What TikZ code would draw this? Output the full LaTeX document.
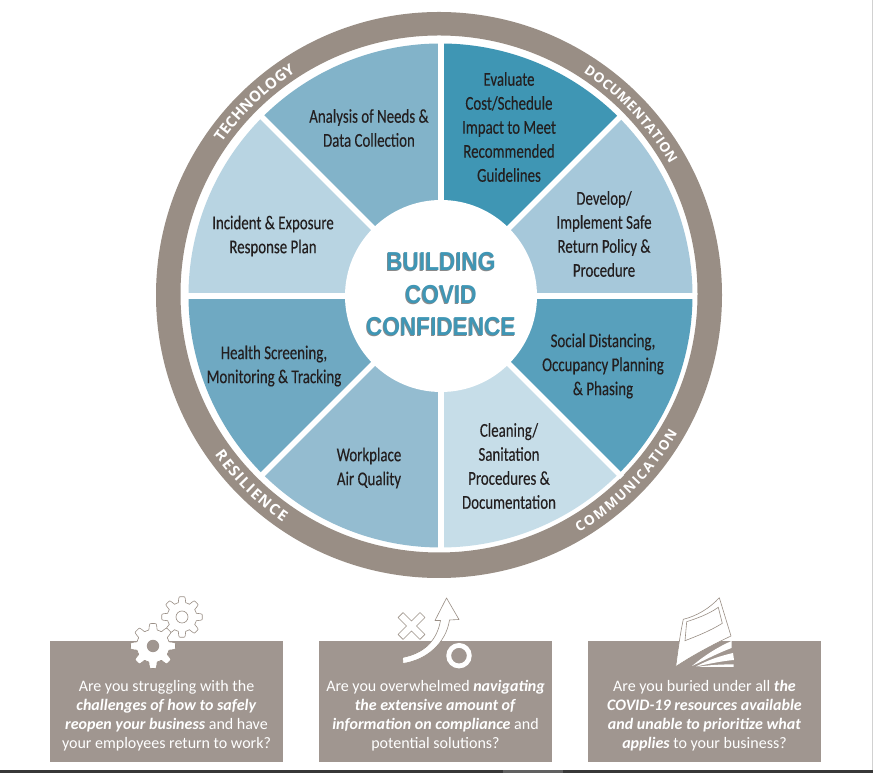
\documentclass[tikz,border=0pt]{standalone}
\usepackage{fontspec}
\usetikzlibrary{decorations.text}
\newfontfamily\wedgefont[FakeStretch=0.76,FakeBold=0.25]{Carlito}
\newfontfamily\boxfont{Carlito}
\newfontfamily\ringfont{Open Sans}
\newfontfamily\headfont[FakeStretch=0.87]{Liberation Sans}
\definecolor{ringgrey}{HTML}{998E85}
\definecolor{boxgrey}{HTML}{A09690}
\definecolor{headblue}{HTML}{3F96B5}
\definecolor{headshade}{HTML}{8A8A8A}
\definecolor{inktext}{HTML}{231F20}
\definecolor{wa}{HTML}{82B3C9}
\definecolor{wb}{HTML}{3F96B4}
\definecolor{wc}{HTML}{A6C8DA}
\definecolor{wd}{HTML}{58A0BC}
\definecolor{we}{HTML}{C6DDE8}
\definecolor{wf}{HTML}{94BCD0}
\definecolor{wg}{HTML}{6FA9C2}
\definecolor{wh}{HTML}{B8D4E2}
\tikzset{
  x=1pt,y=1pt,
  wedgelabel/.style={font=\wedgefont\fontsize{19.6}{24}\selectfont,text=inktext,align=center,inner sep=0pt},
  boxlabel/.style={font=\boxfont\fontsize{16}{19}\selectfont,text=white,align=center,inner sep=0pt},
  heading/.style={font=\headfont\bfseries\fontsize{26}{32.5}\selectfont,align=center,inner sep=0pt},
  infobox/.style={fill=boxgrey,minimum width=233pt,minimum height=121pt,inner sep=0pt,anchor=north west},
  iconline/.style={draw=ringgrey,line width=.6pt,fill=white,line join=round},
  ringtext/.style 2 args={decorate,decoration={text along path,text align={fit to path},
    text={|\ringfont\bfseries\fontsize{#1}{#1}\selectfont\color{white}|#2}}},
  sector/.style={fill=#1}
}
% Eight-toothed gear outline centred on the current origin
\newcommand{\gearoutline}[3]{plot[domain=0:360,samples=193,variable=\t]
  (\t:{#1+#2*max(min(2.4*cos(8*(\t-#3)),1),-1)}) -- cycle}
\begin{document}
\begin{tikzpicture}
\useasboundingbox (0,0) rectangle (873,773);
\fill[white] (0,0) rectangle (873,773);

% Outer ring
\fill[ringgrey,even odd rule] (439,478) circle[radius=283pt] (439,479) circle[radius=258.5pt];

% Ring captions
\begin{scope}[shift={(439,478)}]
  \path[ringtext={15}{TECHNOLOGY}] (145:265) arc[start angle=145,end angle=123,radius=265pt];
  \path[ringtext={13.6}{DOCUMENTATION}] (57:265) arc[start angle=57,end angle=29.5,radius=265pt];
  \path[ringtext={13.6}{COMMUNICATION}] (-59.5:275.5) arc[start angle=-59.5,end angle=-30,radius=275.5pt];
  \path[ringtext={15}{RESILIENCE}] (215.5:275.5) arc[start angle=215.5,end angle=235.5,radius=275.5pt];
\end{scope}

% Eight sectors of the wheel
\begin{scope}[shift={(440.5,477.5)}]
  \foreach \a/\c in {45/wb,0/wc,-45/wd,-90/we,-135/wf,-180/wg,-225/wh,-270/wa}
    \fill[sector=\c] (0,0) -- (\a:252) arc[start angle=\a,delta angle=45,radius=252pt] -- cycle;
\end{scope}

% White spokes and hub
\begin{scope}[shift={(441,477)}]
  \foreach \a in {0,45,90,135}
    \draw[white,line width=5.6pt] (\a:256) -- (\a+180:256);
  \fill[white] (0,0) circle[radius=96pt];
\end{scope}

% Hub title with its soft grey edge
\node[heading,text=headshade] (titleshade) at (440.2,477.8) {BUILDING\\COVID\\CONFIDENCE};
\node[heading,text=headblue] (title) at (441,478.5) {BUILDING\\COVID\\CONFIDENCE};

% Sector labels
\node[wedgelabel] (analysis) at (369,645) {Analysis of Needs \&\\Data Collection};
\node[wedgelabel] (evaluate) at (509,646) {Evaluate\\Cost/Schedule\\Impact to Meet\\Recommended\\Guidelines};
\node[wedgelabel] (develop) at (604,539) {Develop/\\Implement Safe\\Return Policy \&\\Procedure};
\node[wedgelabel] (social) at (603,407) {Social Distancing,\\Occupancy Planning\\\& Phasing};
\node[wedgelabel] (cleaning) at (509,307) {Cleaning/\\Sanitation\\Procedures \&\\Documentation};
\node[wedgelabel] (air) at (369,305) {Workplace\\Air Quality};
\node[wedgelabel] (health) at (274,407) {Health Screening,\\Monitoring \& Tracking};
\node[wedgelabel] (incident) at (273,537) {Incident \& Exposure\\Response Plan};

% Question boxes
\node[infobox] (boxa) at (50,132.5) {};
\node[infobox] (boxb) at (319,132.5) {};
\node[infobox] (boxc) at (588,132.5) {};

% Icons, laid out with the vertical axis pointing down
\begin{scope}[shift={(0,773)},y=-1pt]
  % pair of gears
  \begin{scope}[shift={(182,617)}]
    \draw[iconline] \gearoutline{17.5}{2.8}{90};
    \draw[draw=ringgrey,line width=.6pt] (0,0) circle[radius=6pt];
  \end{scope}
  \begin{scope}[shift={(153,646)}]
    \draw[iconline] \gearoutline{19.5}{3}{90};
    \fill[boxgrey] (0,0) circle[radius=6.2pt];
  \end{scope}
  % play-diagram cross, arrow and circle
  \begin{scope}[shift={(411.5,626)},rotate=45]
    \draw[iconline] (-3.5,-15.5) -- (3.5,-15.5) -- (3.5,-3.5) -- (15.5,-3.5) -- (15.5,3.5) -- (3.5,3.5)
      -- (3.5,15.5) -- (-3.5,15.5) -- (-3.5,3.5) -- (-15.5,3.5) -- (-15.5,-3.5) -- (-3.5,-3.5) -- cycle;
  \end{scope}
  \draw[iconline] (402.5,657.5) .. controls (425,653) and (437,640) .. (440.5,620.5) -- (435,620.5)
    -- (446.5,598) -- (459,619.5) -- (449.5,620) .. controls (446,643) and (427,660) .. (403,663.5) -- cycle;
  \draw[white,line width=4.8pt] (459,655.7) circle[radius=10.3pt];
  % fanned pages of a booklet
  \draw[iconline] (675.7,666.7) .. controls (678,650) and (680,635) .. (683.3,619.3)
    .. controls (697,616) and (710,608) .. (719.3,597.7) -- (731,636)
    .. controls (710,646) and (690,657) .. (675.7,666.7) -- cycle;
  \draw[draw=ringgrey,line width=.6pt] (686.7,621.7) .. controls (698,618) and (709,614) .. (718.3,607.3)
    -- (722.3,623.3) .. controls (710,631) and (697,636) .. (685,640.7) -- cycle;
  \fill[white] (692,666) .. controls (705,655) and (718,647) .. (731.5,641) -- (731.5,648)
    .. controls (718,653) and (705,660) .. cycle;
  \fill[white] (696,666.5) .. controls (708,660) and (720,656) .. (733,653) -- (734,660)
    .. controls (722,661) and (708,664) .. cycle;
  \fill[white] (697,667) .. controls (708,665) and (720,664.5) .. (733.5,664.3) -- (733.5,667) -- cycle;
\end{scope}

% Question wording
\node[boxlabel] (qa) at (166.5,57.5) {Are you struggling with the\\\textbf{\textit{challenges of how to safely}}\\\textbf{\textit{reopen your business}} and have\\your employees return to work?};
\node[boxlabel] (qb) at (435.5,57.5) {Are you overwhelmed \textbf{\textit{navigating}}\\\textbf{\textit{the extensive amount of}}\\\textbf{\textit{information on compliance}} and\\potential solutions?};
\node[boxlabel] (qc) at (704.5,57.5) {Are you buried under all \textbf{\textit{the}}\\\textbf{\textit{COVID-19 resources available}}\\\textbf{\textit{and unable to prioritize what}}\\\textbf{\textit{applies}} to your business?};

% Bottom rule and right hairline
\fill[black!78] (0,0) rectangle (503,3);
\fill[black!62] (503,0) rectangle (563,3);
\fill[black!78] (563,0) rectangle (873,3);
\fill[black!18] (871.8,3) rectangle (873,773);
\end{tikzpicture}
\end{document}
